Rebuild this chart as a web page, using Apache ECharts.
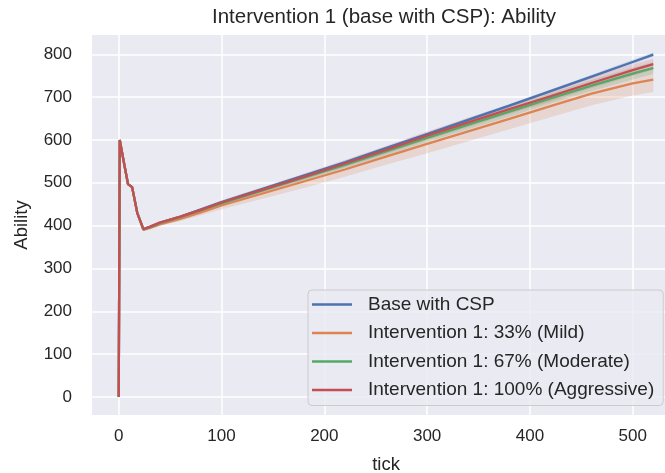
<!DOCTYPE html>
<html><head><meta charset="utf-8">
<script src="https://cdn.jsdelivr.net/npm/echarts@6/dist/echarts.min.js"></script>
<style>html,body{margin:0;padding:0;background:#fff}#c{width:665px;height:473px}</style>
</head><body><div id="c"></div>
<script>
const titleText = 'Intervention 1 (base with CSP): Ability';
const xName = 'tick';
const yName = 'Ability';
const seriesNames = ['Base with CSP', 'Intervention 1: 33% (Mild)', 'Intervention 1: 67% (Moderate)', 'Intervention 1: 100% (Aggressive)'];
const ticks = [0,1,5,9,13,18,24,30,40,60,80,100,140,180,220,260,300,340,380,420,460,500,520];
const baseCSP = [0,600,548,497,490,430,392,397,407,421,438,455,486,517,548,581,614,647,680,714,748,782,799];
const mild = [0,600,548,497,490,430,390,394,403,416,431,447,475,503,531,561,591,620,649,679,708,732,741];
const moderate = [0,600,548,497,490,430,391,396,406,420,436,452,482,512,542,573,605,636,666,697,727,755,768];
const aggressive = [0,600,548,497,490,430,392,397,407,421,437,454,484,514,545,577,610,641,672,702,733,763,777];
const baseSpread = [0,0,0,0,0,0,0,1,1,1,2,2,2,3,3,3,3,4,4,4,4,5,5];
const mildSpread = [0,0,0,0,0,0,0,2,3,5,7,9,12,15,17,19,22,23,24,26,27,28,29];
const moderateSpread = [0,0,0,0,0,0,0,1,2,3,4,5,6,7,8,9,10,11,12,12,13,14,14];
const aggressiveSpread = [0,0,0,0,0,0,0,1,2,3,4,5,6,7,8,9,10,11,11,12,12,13,13];

const colors = ['#4C72B0', '#DD8452', '#55A868', '#C44E52'];
const bandColors = ['rgba(76,114,176,0.2)', 'rgba(221,132,82,0.2)', 'rgba(85,168,104,0.2)', 'rgba(196,78,82,0.2)'];
const values = [baseCSP, mild, moderate, aggressive];
const spreads = [baseSpread, mildSpread, moderateSpread, aggressiveSpread];

const series = [];
values.forEach((vals, k) => {
  const sp = spreads[k];
  series.push({
    name: seriesNames[k] + ' band', type: 'custom', silent: true, z: 1,
    data: ticks.map((t, i) => [t, vals[i] - sp[i], vals[i] + sp[i]]),
    encode: { x: 0, y: [1, 2] },
    renderItem: function (params, api) {
      if (params.dataIndex !== 0) return null;
      const upper = ticks.map((t, i) => api.coord([t, vals[i] + sp[i]]));
      const lower = ticks.map((t, i) => api.coord([t, vals[i] - sp[i]])).reverse();
      return { type: 'polygon', shape: { points: upper.concat(lower) }, style: { fill: bandColors[k] } };
    }
  });
});
values.forEach((vals, k) => {
  series.push({
    name: seriesNames[k], type: 'line', symbol: 'none', z: 3 + k,
    color: colors[k],
    lineStyle: { color: colors[k], width: 2.3 },
    data: ticks.map((t, i) => [t, vals[i]])
  });
});

const font = 'Liberation Sans, Arial, sans-serif';
const chart = echarts.init(document.getElementById('c'), null, { renderer: 'canvas' });
chart.setOption({
  animation: false,
  backgroundColor: '#ffffff',
  textStyle: { fontFamily: font },
  graphic: [{
    type: 'text', x: 384, y: 17,
    style: { text: titleText, fill: '#262626', font: '20.5px ' + font, textAlign: 'center', textVerticalAlign: 'middle' }
  }],
  grid: { left: 92, top: 35, width: 588, height: 380, show: true, backgroundColor: '#EAEAF2', borderWidth: 0, outerBoundsMode: 'none', containLabel: false },
  xAxis: {
    type: 'value', min: -26, max: 546, splitNumber: 6,
    name: xName, nameLocation: 'middle', nameGap: 40,
    nameTextStyle: { color: '#262626', fontSize: 18.5, fontFamily: font },
    axisLine: { show: false }, axisTick: { show: false },
    axisLabel: { color: '#262626', fontSize: 17, fontFamily: font, margin: 13, showMinLabel: false, showMaxLabel: false },
    splitLine: { show: true, showMinLine: false, showMaxLine: false, lineStyle: { color: '#ffffff', width: 1.5 } }
  },
  yAxis: {
    type: 'value', min: -42, max: 845, splitNumber: 9,
    name: yName, nameLocation: 'middle', nameGap: 61, nameRotate: 90,
    nameTextStyle: { color: '#262626', fontSize: 18.5, fontFamily: font },
    axisLine: { show: false }, axisTick: { show: false },
    axisLabel: { color: '#262626', fontSize: 17, fontFamily: font, margin: 20, showMinLabel: false, showMaxLabel: false },
    splitLine: { show: true, showMinLine: false, showMaxLine: false, lineStyle: { color: '#ffffff', width: 1.5 } }
  },
  legend: {
    data: seriesNames, orient: 'vertical', left: 308, top: 290,
    icon: 'rect', itemWidth: 40, itemHeight: 2.5, itemGap: 9.5,
    padding: [5, 9, 6, 4],
    backgroundColor: 'rgba(234,234,242,0.8)', borderColor: '#cccccc', borderWidth: 1, borderRadius: 4,
    textStyle: { color: '#262626', fontSize: 19, fontFamily: font, padding: [0, 0, 0, 11] }
  },
  series: series
});
</script>
</body></html>
